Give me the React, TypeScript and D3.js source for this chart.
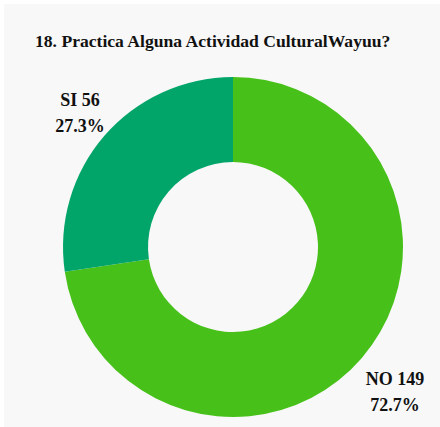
import React from "react";
import * as d3 from "d3";

const categories = ["NO", "SI"];
const counts = [149, 56];
const percents = ["72.7%", "27.3%"];
const colors = ["#47c11a", "#02a569"];
const title = "18. Practica Alguna Actividad CulturalWayuu?";

const W = 440;
const H = 427;
const cx = 233;
const cy = 247;
const outerR = 170;
const innerR = 85;
const font = "'Liberation Serif', serif";

export default function App() {
  const pie = d3.pie<number>().sort(null).value((d) => d)(counts);
  const arc = d3.arc<d3.PieArcDatum<number>>().innerRadius(innerR).outerRadius(outerR);
  const labelPos = [
    { x: 395, y: 385 },
    { x: 80, y: 106 },
  ];
  return (
    <svg
      width={W}
      height={H}
      style={{ position: "absolute", left: 0, top: 0, display: "block" }}
    >
      <rect x={0} y={0} width={W} height={H} fill="#ffffff" />
      <rect x={4} y={4} width={W - 4} height={H - 4} fill="#f8f8f8" />
      <text x={35} y={47} style={{ fontFamily: font, fontSize: 17.6, fontWeight: 700 }} fill="#111">
        {title}
      </text>
      <g transform={`translate(${cx},${cy})`}>
        {pie.map((d, i) => (
          <path key={categories[i]} d={arc(d) || ""} fill={colors[i]} />
        ))}
      </g>
      {categories.map((c, i) => (
        <text key={c} textAnchor="middle" style={{ fontFamily: font, fontSize: 18, fontWeight: 700 }} fill="#111">
          <tspan x={labelPos[i].x} y={labelPos[i].y}>{`${c} ${counts[i]}`}</tspan>
          <tspan x={labelPos[i].x} y={labelPos[i].y + 26}>{percents[i]}</tspan>
        </text>
      ))}
    </svg>
  );
}
